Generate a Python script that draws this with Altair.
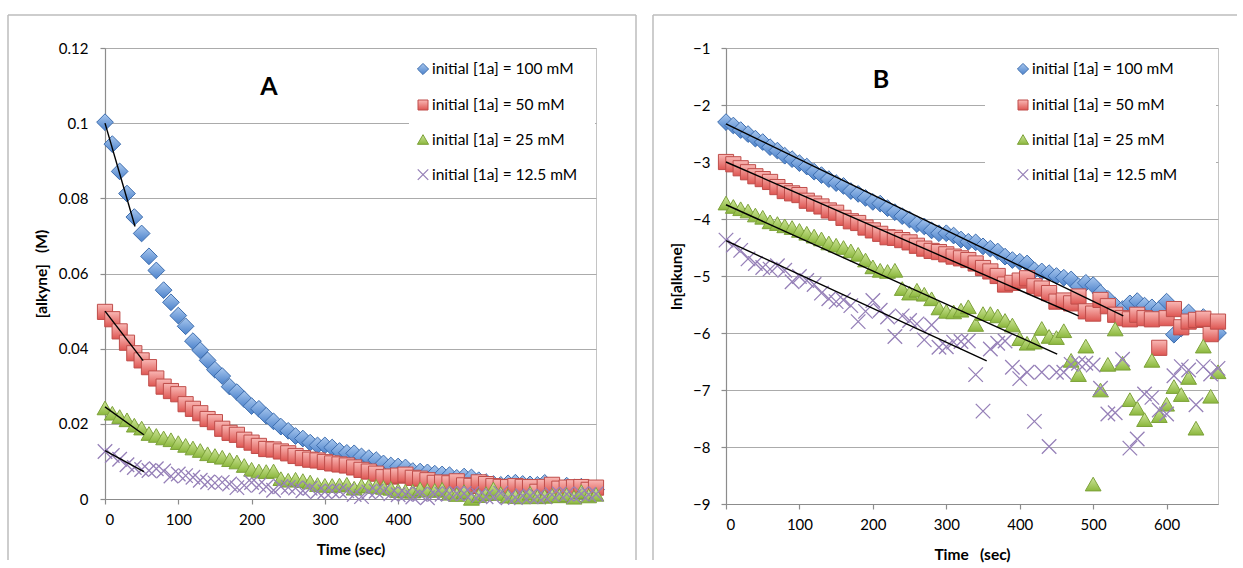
import altair as alt
import numpy as np
import pandas as pd

# ---------------- data ----------------
time_s = list(range(0, 680, 10))

series_labels = [
    "initial [1a] = 100 mM",
    "initial [1a] = 50 mM",
    "initial [1a] = 25 mM",
    "initial [1a] = 12.5 mM",
]

# ln[alkyne] values, one per 10 s (panel B); panel A shows the same data as [alkyne] = exp(ln)
ln_100mM = [
    -2.30, -2.36, -2.44, -2.51, -2.59, -2.65, -2.74, -2.80, -2.89, -2.95,
    -3.02, -3.08, -3.17, -3.23, -3.30, -3.37, -3.42, -3.51, -3.56, -3.63,
    -3.70, -3.73, -3.81, -3.88, -3.95, -4.01, -4.09, -4.13, -4.20, -4.25,
    -4.25, -4.29, -4.36, -4.40, -4.41, -4.48, -4.52, -4.57, -4.66, -4.72,
    -4.75, -4.78, -4.90, -4.92, -4.95, -5.00, -5.03, -5.06, -5.18, -5.12,
    -5.16, -5.30, -5.40, -5.52, -5.58, -5.48, -5.44, -5.52, -5.55, -5.58,
    -5.45, -6.03, -5.92, -5.64, -5.77, -5.72, -5.88, -6.00,
]
ln_50mM = [
    -3.00, -3.04, -3.11, -3.18, -3.25, -3.30, -3.35, -3.44, -3.51, -3.55,
    -3.58, -3.68, -3.73, -3.78, -3.85, -3.89, -3.98, -4.04, -4.07, -4.15,
    -4.20, -4.26, -4.32, -4.33, -4.37, -4.41, -4.47, -4.52, -4.56, -4.58,
    -4.62, -4.66, -4.69, -4.72, -4.78, -4.86, -4.92, -5.00, -5.15, -5.12,
    -5.08, -5.04, -5.18, -5.22, -5.30, -5.45, -5.43, -5.48, -5.36, -5.62,
    -5.66, -5.42, -5.53, -5.68, -5.74, -5.76, -5.68, -5.74, -5.76, -6.26,
    -5.74, -5.58, -5.90, -5.80, -5.77, -5.75, -6.02, -5.80,
]
ln_25mM = [
    -3.72, -3.78, -3.82, -3.86, -3.93, -3.97, -4.05, -4.08, -4.12, -4.15,
    -4.20, -4.25, -4.30, -4.35, -4.42, -4.46, -4.50, -4.56, -4.62, -4.72,
    -4.84, -4.90, -4.92, -4.90, -5.22, -5.30, -5.25, -5.32, -5.40, -5.56,
    -5.62, -5.63, -5.60, -5.54, -5.85, -5.66, -5.66, -5.70, -5.78, -5.86,
    -6.10, -6.18, -6.16, -5.92, -6.06, -6.08, -5.96, -6.48, -6.73, -6.23,
    -8.65, -7.00, -6.55, -5.93, -6.53, -7.17, -7.32, -7.52, -6.48, -7.45,
    -7.25, -6.94, -7.08, -6.78, -7.67, -6.23, -7.11, -6.68,
]
ln_12_5mM = [
    -4.37, -4.46, -4.55, -4.70, -4.78, -4.85, -4.88, -4.82, -4.90, -5.10,
    -5.01, -5.08, -5.15, -5.30, -5.40, -5.45, -5.42, -5.52, -5.80, -5.62,
    -5.43, -5.60, -5.72, -6.06, -5.70, -5.78, -5.84, -6.12, -5.86, -6.25,
    -6.24, -6.16, -6.15, -6.14, -6.73, -7.37, -6.28, -6.18, -6.14, -6.60,
    -6.80, -6.69, -7.55, -6.69, -7.99, -6.69, -6.69, -6.55, -6.53, -6.53,
    -6.56, -6.97, -7.42, -7.40, -6.46, -8.02, -7.86, -7.07, -7.13, -7.35,
    -7.42, -6.75, -6.59, -6.65, -7.26, -6.59, -6.72, -6.62,
]
ln_series = [ln_100mM, ln_50mM, ln_25mM, ln_12_5mM]

# black fit lines
fitA_t_start = [0, 0, 0, 0]
fitA_t_end = [41, 52, 53, 53]
fitA_c_start = [0.100, 0.050, 0.0245, 0.0129]
fitA_c_end = [0.0725, 0.0368, 0.0171, 0.0073]

fitB_t_start = [0, 0, 0, 0]
fitB_t_end = [541, 480, 451, 355]
fitB_v_start = [-2.33, -3.00, -3.75, -4.38]
fitB_v_end = [-5.70, -5.70, -6.37, -6.49]

x_ticks = [0, 100, 200, 300, 400, 500, 600]
yA_ticks = [0, 0.02, 0.04, 0.06, 0.08, 0.10, 0.12]
yB_ticks = [-9, -8, -7, -6, -5, -4, -3, -2, -1]

# ---------------- styling ----------------
FONT = "Lato"
X_SHAPE = "M-1,-1L1,1M-1,1L1,-1"


def grad(top, bottom):
    return {"gradient": "linear", "x1": 0, "x2": 0, "y1": 0, "y2": 1,
            "stops": [{"offset": 0, "color": top}, {"offset": 1, "color": bottom}]}


styles = [
    dict(shape="diamond", size=280, fill=grad("#A8C7EE", "#4C82CB"), stroke="#3D6DAE", sw=1.0, lsize=125),
    dict(shape="square", size=230, fill=grad("#F9B8B5", "#DE5652"), stroke="#BF4D4A", sw=1.0, lsize=100),
    dict(shape="triangle-up", size=250, fill=grad("#CFE69C", "#8BB73C"), stroke="#7DA23A", sw=1.0, lsize=125),
    dict(shape=X_SHAPE, size=210, fill=None, stroke="#9680B8", sw=1.3, lsize=110),
]

one = pd.DataFrame({"k": [0]})


def seg(x1, x2, y1, y2, color="#BDBDBD", width=1.5):
    return alt.Chart(one).mark_rule(color=color, strokeWidth=width).encode(
        x=alt.value(x1), x2=alt.value(x2), y=alt.value(y1), y2=alt.value(y2))


def point_kw(st, small=False):
    kw = dict(shape=st["shape"], size=st["lsize"] if small else st["size"],
              stroke=st["stroke"], strokeWidth=st["sw"], opacity=1)
    if st["fill"] is not None:
        kw.update(filled=True, fill=st["fill"], fillOpacity=1)
    else:
        kw.update(filled=False)
    return kw


def panel(kind):
    if kind == "A":
        W, H = 491, 451
        ydom, yticks, yfmt = [0, 0.12], yA_ticks, ".2~f"
        ytitle = "[alkyne]\u00a0\u00a0\u00a0(M)"
        xtitle = "Time (sec)"
        ytitle_x = -63.5
        lab_pad = 12
        values = [[float(np.exp(v)) for v in s] for s in ln_series]
        fit = pd.DataFrame({"t0": fitA_t_start, "t1": fitA_t_end, "y0": fitA_c_start, "y1": fitA_c_end})
        frame = [(-97, 531, -33, -33), (-97, -97, -33, 512), (531, 531, -33, 512)]
        leg_box = (304, 490, 7, 142)
        leg_sym_x, leg_txt_x = 318, 327
        letter, letter_xy = "A", (164, 39)
    else:
        W, H = 492, 456
        ydom, yticks, yfmt = [-9, -1], yB_ticks, "d"
        ytitle = "ln[alkune]"
        xtitle = "Time\u00a0\u00a0\u00a0(sec)"
        ytitle_x = -49.4
        lab_pad = 11
        values = ln_series
        fit = pd.DataFrame({"t0": fitB_t_start, "t1": fitB_t_end, "y0": fitB_v_start, "y1": fitB_v_end})
        frame = [(-73, 511, -33, -33), (-73, -73, -33, 512)]
        leg_box = (259, 490, 7, 147)
        leg_sym_x, leg_txt_x = 297, 306
        letter, letter_xy = "B", (155, 32)

    xaxis = alt.Axis(values=x_ticks, title=xtitle, grid=False, labelPadding=8,
                     titleY=50, titleBaseline="middle")
    yaxis = alt.Axis(values=yticks, format=yfmt, title=ytitle, grid=True, labelPadding=lab_pad,
                     titleX=ytitle_x, titleY=H / 2, titleBaseline="middle")
    xscale = alt.Scale(domain=[0, 670], nice=False, zero=False)
    yscale = alt.Scale(domain=ydom, nice=False, zero=False)

    def xenc(f):
        return alt.X(f"{f}:Q", scale=xscale, axis=xaxis)

    def yenc(f):
        return alt.Y(f"{f}:Q", scale=yscale, axis=yaxis)

    layers = [seg(*f) for f in frame]
    layers.append(
        alt.Chart(one).mark_rect(fill="white", stroke=None).encode(
            x=alt.value(leg_box[0]), x2=alt.value(leg_box[1]),
            y=alt.value(leg_box[2]), y2=alt.value(leg_box[3])))
    for st, vals in zip(styles, values):
        df = pd.DataFrame({"t": time_s, "v": vals})
        layers.append(alt.Chart(df).mark_point(**point_kw(st)).encode(x=xenc("t"), y=yenc("v")))
    layers.append(
        alt.Chart(fit).mark_rule(color="black", strokeWidth=1.4).encode(
            x=xenc("t0"), x2="t1:Q", y=yenc("y0"), y2="y1:Q"))
    leg_rows = [21, 57, 91.5, 126.6]
    for st, lab, ly in zip(styles, series_labels, leg_rows):
        layers.append(alt.Chart(one).mark_point(**point_kw(st, small=True)).encode(
            x=alt.value(leg_sym_x), y=alt.value(ly)))
        layers.append(alt.Chart(one).mark_text(
            text=lab, align="left", baseline="middle", font=FONT, fontSize=15.5, color="black").encode(
            x=alt.value(leg_txt_x), y=alt.value(ly)))
    layers.append(alt.Chart(one).mark_text(
        text=letter, align="center", baseline="middle", font=FONT, fontSize=25,
        fontWeight="bold", color="black").encode(
        x=alt.value(letter_xy[0]), y=alt.value(letter_xy[1])))
    return alt.layer(*layers).properties(width=W, height=H)


chart = (
    alt.hconcat(panel("A"), panel("B"), spacing=13)
    .resolve_scale(x="independent", y="independent")
    .properties(padding={"left": 6, "top": 13, "right": 0, "bottom": 0})
    .configure(font=FONT, background="white")
    .configure_view(stroke="#C4C4C4", strokeWidth=1)
    .configure_axis(
        labelFont=FONT, labelFontSize=15, labelColor="black",
        titleFont=FONT, titleFontSize=15.5, titleFontWeight="bold", titleColor="black",
        gridColor="#ABABAB", gridWidth=1, domainColor="#8C8C8C", domainWidth=1.2,
        tickColor="#8C8C8C", tickSize=5, tickWidth=1.2)
)

chart.save("out.html", embed_options={"renderer": "svg", "actions": False})
